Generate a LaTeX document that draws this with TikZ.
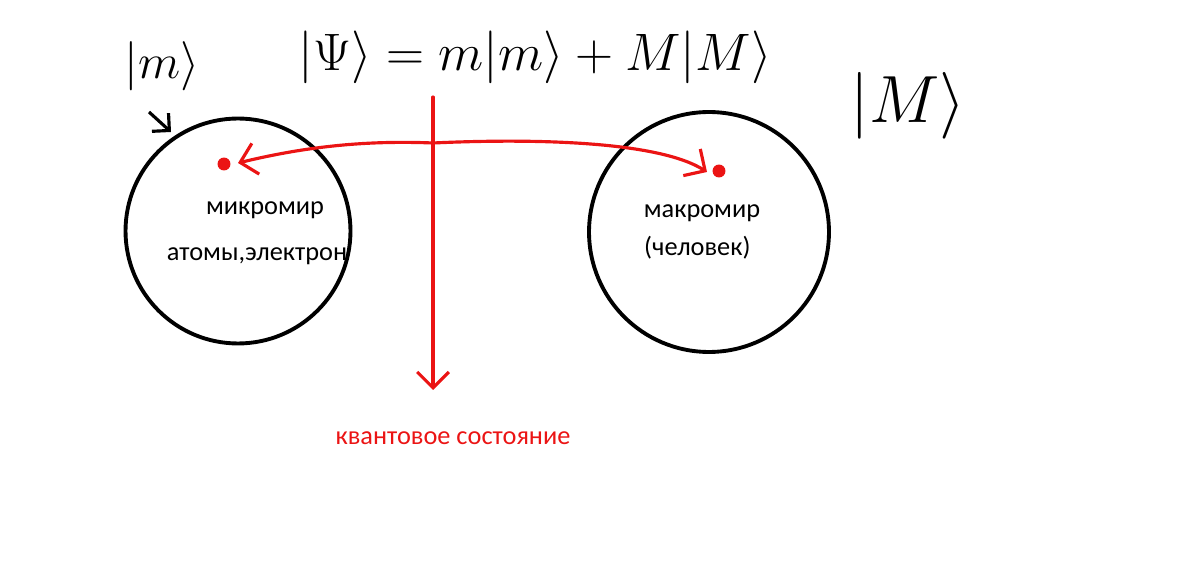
\RequirePackage{fix-cm}
\documentclass[tikz,border=0pt]{standalone}
\usepackage{amsmath}
\usepackage{fontspec}
\setmainfont{Carlito}
\usepackage{xcolor}
\usetikzlibrary{arrows.meta}

\definecolor{penred}{RGB}{235,20,20}

\tikzset{
	world/.style = {circle, draw, line width = 2.2pt, inner sep = 0pt},
	label/.style = {font = \fontsize{15}{18}\selectfont},
	pen/.style = {font = \fontsize{30}{36}\selectfont},
	redpen/.style = {draw = penred, line width = 1.8pt, line cap = round, line join = round},
	blot/.style = {circle, fill = penred, inner sep = 2.6pt},
	barb/.style = {>={Straight Barb[length = 9pt, width = 18pt, line width = 1.8pt]}}
}

\begin{document}
\begin{tikzpicture}[x = 0.02cm, y = -0.02cm]
		\useasboundingbox (0,0) rectangle (1200,577);
		% the two worlds
		\node[world, minimum size = 4.5cm] (micro) at (238,231) {};
		\node[world, minimum size = 4.8cm] (macro) at (709,232) {};
		\node[label] (microname) at (265,210) {микромир};
		\node[label] (microwhat) at (257,256) {атомы,электрон};
		\node[label] (macroname) at (702,213) {макромир};
		\node[label, anchor = west] (macrowhat) at (638,248) {(человек)};
		% kets
		\node[pen, font = \fontsize{28}{34}\selectfont] (ketm) at (162,66) {$|m\rangle$};
		\node[pen] (psi) at (535,57) {$|\Psi\rangle = m|m\rangle + M|M\rangle$};
		\node[pen, font = \fontsize{38}{44}\selectfont] (ketM) at (908,106) {$|M\rangle$};
		\coordinate (ketmtip) at (171,132);
		\draw [line width = 1.8pt, ->, >={Straight Barb[length = 7pt, width = 14pt]}] (149,112) -- (ketmtip);
		% red marks
		\node[blot] (dotL) at (224,164) {};
		\node[blot] (dotR) at (719,171) {};
		\coordinate (tipL) at (238,163);
		\coordinate (tipR) at (707,172);
		\coordinate (mid) at (433,143);
		\draw [redpen, barb, <->] (tipL) .. controls (300,148) and (360,140) .. (mid)
			.. controls (540,138) and (660,142) .. (tipR);
		\coordinate (top) at (433,97);
		\coordinate (bottom) at (433,390);
		\draw [redpen, barb, ->] (top) -- (bottom);
		\node[label, text = penred, anchor = north] (state) at (453,425) {квантовое состояние};
	\end{tikzpicture}
\end{document}
